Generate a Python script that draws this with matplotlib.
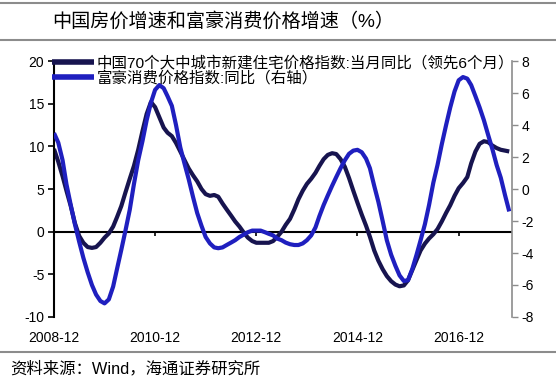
import matplotlib
matplotlib.use('Agg')
import matplotlib.pyplot as plt
import matplotlib.dates as mdates
import pandas as pd

plt.rcParams['font.family'] = ['Liberation Sans', 'Noto Sans CJK SC']
plt.rcParams['axes.unicode_minus'] = False

# monthly, 2008-12 .. 2017-12
dates = pd.date_range('2008-12-01', periods=109, freq='MS')

# 中国70个大中城市新建住宅价格指数:当月同比(领先6个月), left axis
house = [9.7, 8.2, 6.5, 4.8, 3.0, 1.0, -0.5, -1.3, -1.8, -1.9,
         -1.8, -1.3, -0.7, -0.2, 0.6, 1.7, 3.0, 4.6, 6.2, 7.7,
         9.6, 11.8, 13.8, 15.2, 14.6, 13.4, 12.2, 11.6, 11.2, 10.4,
         9.4, 8.4, 7.4, 6.6, 5.9, 5.0, 4.4, 4.2, 4.3, 4.1,
         3.3, 2.6, 1.9, 1.2, 0.6, -0.1, -0.7, -1.1, -1.3, -1.3,
         -1.3, -1.3, -1.1, -0.6, 0.0, 0.8, 1.5, 2.6, 3.8, 4.8,
         5.6, 6.2, 6.9, 7.7, 8.5, 9.0, 9.2, 9.1, 8.5, 7.6,
         6.3, 4.8, 3.4, 2.0, 0.7, -0.6, -2.2, -3.4, -4.4, -5.2,
         -5.8, -6.2, -6.4, -6.3, -5.7, -4.5, -3.3, -2.2, -1.4, -0.8,
         -0.3, 0.3, 1.2, 2.2, 3.1, 4.2, 5.1, 5.7, 6.4, 8.0,
         9.4, 10.3, 10.6, 10.5, 10.1, 9.8, 9.6, 9.5, 9.4]

# 富豪消费价格指数:同比, right axis
luxury = [3.5, 2.9, 1.8, 0.3, -1.0, -2.2, -3.3, -4.3, -5.2, -6.0,
          -6.6, -7.0, -7.15, -6.9, -6.1, -5.0, -3.8, -2.6, -1.3, 0.3,
          1.8, 3.0, 4.3, 5.4, 6.2, 6.5, 6.3, 5.8, 5.2, 4.0,
          2.6, 1.6, 0.6, -0.5, -1.5, -2.3, -3.0, -3.4, -3.65, -3.7,
          -3.65, -3.5, -3.35, -3.2, -3.0, -2.85, -2.7, -2.6, -2.6, -2.6,
          -2.7, -2.8, -2.9, -3.1, -3.2, -3.35, -3.45, -3.5, -3.5, -3.4,
          -3.2, -2.9, -2.4, -1.7, -1.0, -0.4, 0.2, 0.75, 1.3, 1.8,
          2.2, 2.4, 2.45, 2.3, 1.9, 1.3, 0.2, -0.8, -2.0, -3.2,
          -4.1, -4.8, -5.4, -5.75, -5.7, -5.0, -4.1, -3.2, -2.2, -1.0,
          0.4, 1.5, 2.8, 4.0, 5.1, 6.1, 6.8, 7.0, 6.9, 6.5,
          5.8, 5.1, 4.3, 3.4, 2.5, 1.5, 0.7, -0.4, -1.4]

tick_dates = pd.to_datetime(['2008-12-01', '2010-12-01', '2012-12-01',
                             '2014-12-01', '2016-12-01'])

label1 = '中国70个大中城市新建住宅价格指数:当月同比（领先6个月）'
label2 = '富豪消费价格指数:同比（右轴）'

dark = '#17144f'
blue = '#1f1fbf'

fig = plt.figure(figsize=(5.56, 3.84), dpi=100)
ax = fig.add_axes([0.0971, 0.1745, 0.8238, 0.6665])
ax2 = ax.twinx()

l1, = ax.plot(dates, house, color=dark, lw=3, solid_capstyle='butt')
l2, = ax2.plot(dates, luxury, color=blue, lw=3, solid_capstyle='butt')

ax.set_xlim(dates[0], dates[-1] + pd.Timedelta(days=20))
ax.set_ylim(-10, 20)
ax.set_yticks([-10, -5, 0, 5, 10, 15, 20])
ax2.set_ylim(-8, 8)
ax2.set_yticks(range(-8, 9, 2))

# zero line with its own small ticks, labels kept at the bottom
ax.axhline(0, color='black', lw=1.5, zorder=1)
ax.vlines(tick_dates[1:], -0.45, 0, color='black', lw=1.2)
ax.set_xticks(tick_dates)
ax.xaxis.set_major_formatter(mdates.DateFormatter('%Y-%m'))
ax.tick_params(axis='x', length=0, pad=10, labelsize=10)

for a in (ax, ax2):
    a.spines['top'].set_visible(False)
    a.spines['bottom'].set_visible(False)
    a.patch.set_visible(False)
ax.spines['right'].set_visible(False)
ax2.spines['left'].set_visible(False)
ax.spines['left'].set_linewidth(1.5)
ax.tick_params(axis='y', length=4, width=1.2, labelsize=10, pad=3)
ax2.spines['right'].set_color('#8c8c8c')
ax2.spines['right'].set_linewidth(1.2)
ax2.tick_params(axis='y', length=4, width=1, color='#8c8c8c', labelsize=10, pad=3)

leg = ax2.legend([l1, l2], [label1, label2], loc='upper left',
                 bbox_to_anchor=(-0.005, 1.023), frameon=False,
                 fontsize=11.15, handlelength=2.7, handletextpad=0.2,
                 labelspacing=0.0, borderpad=0, borderaxespad=0)
for h in leg.get_lines():
    h.set_linewidth(4)

# frame lines and texts
fig.add_artist(plt.Line2D([0, 1], [0.992, 0.992], color='#8c8c8c', lw=1.5))
fig.add_artist(plt.Line2D([0, 1], [0.896, 0.896], color='#8c8c8c', lw=1.5))
fig.add_artist(plt.Line2D([0, 1], [0.083, 0.083], color='#8c8c8c', lw=1.5))
fig.text(0.093, 0.943, '中国房价增速和富豪消费价格增速（%）', fontsize=13.8,
         va='center', ha='left')
fig.text(0.018, 0.041, '资料来源：Wind，海通证券研究所', fontsize=11.8,
         va='center', ha='left')

fig.savefig('out.png', dpi=100)
